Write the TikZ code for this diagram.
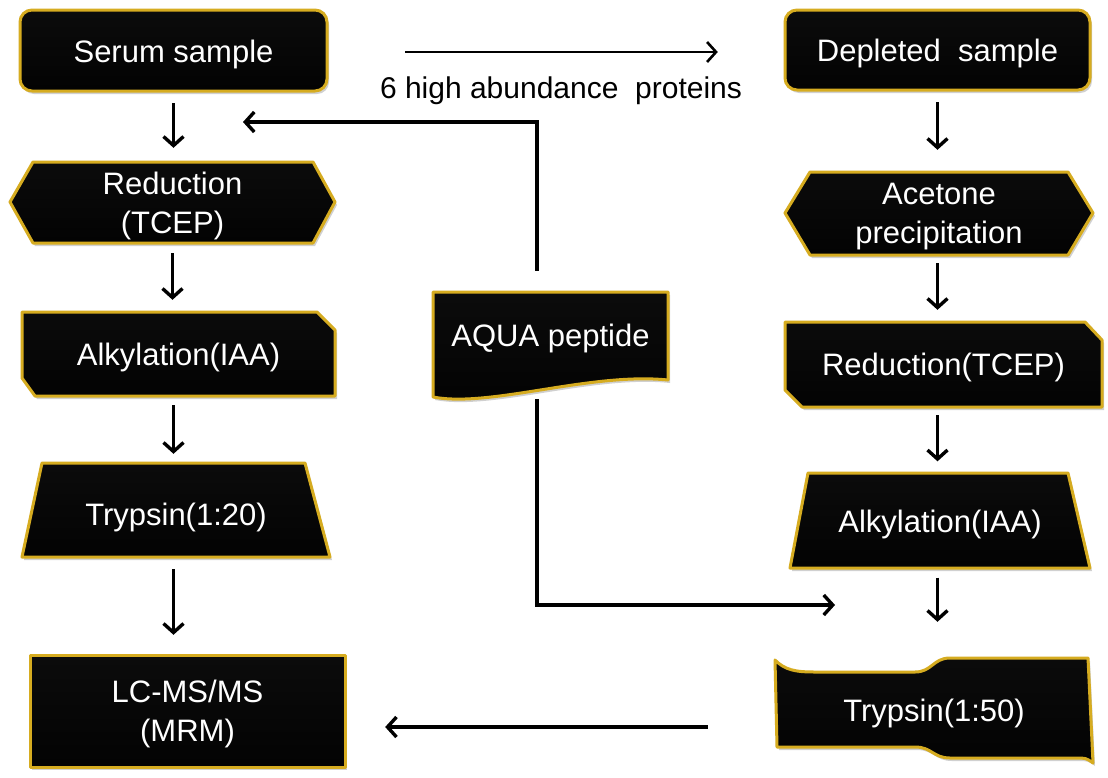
\documentclass[tikz,border=0pt]{standalone}
\usepackage{fontspec}
\setmainfont{Liberation Sans}
\usetikzlibrary{arrows.meta,calc,shadows}
\definecolor{gold}{RGB}{214,172,32}
\pgfdeclareverticalshading{bevel}{100bp}{color(0bp)=(black!65); color(8bp)=(black); color(84bp)=(black!95!white); color(94bp)=(black!68); color(100bp)=(black!60)}
\tikzset{
  boxshape/.style={draw=gold, line width=3pt, line join=round, shading=bevel,
     drop shadow={shadow xshift=2pt, shadow yshift=-3pt, opacity=0.3, fill=black!60}},
  lbl/.style={text=white, font=\fontsize{31}{39}\selectfont, align=center, inner sep=0pt, text depth=0pt},
  arr/.style={draw=black, line width=3.4pt, -{Straight Barb[length=9pt,width=20pt,line width=3.4pt]}},
  thinarr/.style={draw=black, line width=2.6pt, -{Straight Barb[length=9pt,width=20pt,line width=2.6pt]}},
  captxt/.style={text=black, font=\fontsize{30}{36}\selectfont, inner sep=0pt}
}
\begin{document}
\begin{tikzpicture}[x=1pt,y=-1pt]
\useasboundingbox[fill=white] (0,0) rectangle (1108,777);
% ---------- shapes ----------
\path[boxshape, rounded corners=12pt] (20,10) rectangle (327,91);
\path[boxshape] (10,202) -- (33,162) -- (313,162) -- (335,202) -- (313,243) -- (33,243) -- cycle;
\path[boxshape] (22,312) -- (317,312) -- (335,330) -- (335,396) -- (35,396) -- (22,378) -- cycle;
\path[boxshape] (42,463) -- (305,463) -- (330,557) -- (22,557) -- cycle;
\path[boxshape] (30,655) rectangle (345,767);
\path[boxshape] (433,292) -- (668,292) -- (668,380) .. controls (590,372) and (490,408) .. (433,397) -- cycle;
\path[boxshape, rounded corners=12pt] (785,10) rectangle (1090,90);
\path[boxshape] (785,213) -- (810,172) -- (1068,172) -- (1093,213) -- (1068,255) -- (810,255) -- cycle;
\path[boxshape] (785,322) -- (1085,322) -- (1102,340) -- (1102,407) -- (802,407) -- (785,390) -- cycle;
\path[boxshape] (808,473) -- (1068,473) -- (1090,568) -- (790,568) -- cycle;
\path[boxshape] (775,660) .. controls (785,670) and (795,672) .. (815,672) -- (915,672)
   .. controls (932,672) and (933,658) .. (950,658) -- (1088,658) -- (1093,763)
   .. controls (1086,758) .. (1075,758) -- (950,758)
   .. controls (933,758) and (932,747) .. (915,747) -- (777,747) -- cycle;
% ---------- nodes ----------
\node[lbl, minimum width=307pt, minimum height=81pt] (serum) at (173.5,51) {Serum sample};
\node[lbl, minimum width=325pt, minimum height=81pt] (red1) at (172.5,202.5) {Reduction\\(TCEP)};
\node[lbl, minimum width=313pt, minimum height=84pt] (alk1) at (178.5,354) {Alkylation(IAA)};
\node[lbl, minimum width=308pt, minimum height=94pt] (tryp1) at (176,514) {Trypsin(1:20)};
\node[lbl, minimum width=315pt, minimum height=112pt] (lc) at (187.5,711) {LC-MS/MS\\(MRM)};
\node[lbl, minimum width=235pt, minimum height=88pt] (aqua) at (550.5,335) {AQUA peptide};
\node[lbl, minimum width=305pt, minimum height=80pt] (depl) at (937.5,50) {Depleted\ \ sample};
\node[lbl, minimum width=308pt, minimum height=83pt] (acet) at (939,213.5) {Acetone\\precipitation};
\node[lbl, minimum width=317pt, minimum height=85pt] (red2) at (943.5,364.5) {Reduction(TCEP)};
\node[lbl, minimum width=300pt, minimum height=95pt] (alk2) at (940,521) {Alkylation(IAA)};
\node[lbl, minimum width=318pt, minimum height=100pt] (tryp2) at (934,710) {Trypsin(1:50)};
\node[captxt] (lab) at (561,91) {6 high\ abundance\ \ proteins};
\coordinate (j1) at (243,122);
\coordinate (j2) at (835,605);
\coordinate (ty) at (0,52);
\coordinate (by) at (0,727);
% ---------- connectors ----------
\draw[arr, shorten <=11.5pt, shorten >=14pt] (serum.south) -- (serum.south |- red1.north);
\draw[arr, shorten <=10pt, shorten >=12pt] (red1.south) -- (red1.south |- alk1.north);
\draw[arr, shorten <=9pt, shorten >=13pt] (serum.south |- alk1.south) -- (serum.south |- tryp1.north);
\draw[arr, shorten <=8pt, shorten >=20pt] (serum.south |- tryp1.south) -- (serum.south |- lc.north);
\draw[arr, shorten <=12pt, shorten >=22pt] (depl.south) -- (depl.south |- acet.north);
\draw[arr, shorten <=8pt, shorten >=12pt] (depl.south |- acet.south) -- (depl.south |- red2.north);
\draw[arr, shorten <=8pt, shorten >=12pt] (depl.south |- red2.south) -- (depl.south |- alk2.north);
\draw[arr, shorten <=9pt, shorten >=38pt] (depl.south |- alk2.south) -- (depl.south |- tryp2.north);
\draw[thinarr, shorten <=78pt, shorten >=67pt] (serum.east |- ty) -- (depl.west |- ty);
\draw[arr, shorten <=20pt] ([xshift=-13.5pt]aqua.north) -- ([xshift=-13.5pt]aqua.north |- j1) -- (j1);
\draw[arr, shorten <=20pt] ([xshift=-13.5pt]aqua.south) -- ([xshift=-13.5pt]aqua.south |- j2) -- (j2);
\draw[arr, shorten <=67pt, shorten >=40pt] (tryp2.west |- by) -- (lc.east |- by);
\end{tikzpicture}
\end{document}
